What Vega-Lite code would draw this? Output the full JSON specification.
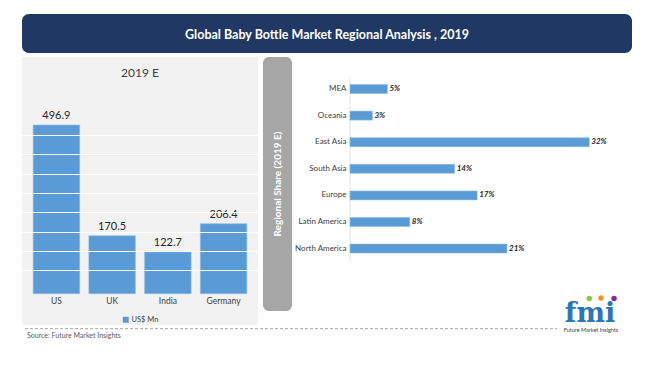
{
  "$schema": "https://vega.github.io/schema/vega-lite/v6.json",
  "background": "white",
  "padding": {"left": 22, "top": 14, "right": 0, "bottom": 0},
  "config": {"font": "Lato", "view": {"stroke": null}},
  "bounds": "flush",
  "spacing": 4,
  "vconcat": [
    {
      "width": 610,
      "height": 39,
      "view": {"fill": "#1f3864", "stroke": null, "cornerRadius": 7},
      "data": {"values": [{"t": "Global Baby Bottle Market Regional Analysis , 2019"}]},
      "mark": {"type": "text", "color": "white", "fontWeight": "bold", "fontSize": 12.5, "align": "center", "baseline": "middle", "dy": 1},
      "encoding": {
        "text": {"field": "t"},
        "x": {"datum": 0.5, "type": "quantitative", "scale": {"domain": [0, 1]}, "axis": null},
        "y": {"datum": 0.5, "type": "quantitative", "scale": {"domain": [0, 1]}, "axis": null}
      }
    },
    {
      "bounds": "full",
      "spacing": 0,
      "vconcat": [
        {
          "bounds": "flush",
          "spacing": 5,
          "hconcat": [
            {
              "width": 236,
              "height": 268,
              "view": {"fill": "#f2f2f2", "stroke": null},
              "title": {"text": "2019 E", "fontSize": 12, "fontWeight": "normal", "color": "#404040", "offset": -23, "anchor": "middle"},
              "data": {"values": [
                {"country": "US", "value": 496.9},
                {"country": "UK", "value": 170.5},
                {"country": "India", "value": 122.7},
                {"country": "Germany", "value": 206.4}
              ]},
              "encoding": {
                "x": {"field": "country", "type": "nominal", "sort": null,
                  "scale": {"paddingInner": 0.165, "paddingOuter": 0.2},
                  "axis": {"title": null, "labelAngle": 0, "labelFontSize": 8.5, "labelColor": "#404040", "ticks": false, "domain": false, "offset": -31, "labelPadding": 2}},
                "y": {"field": "value", "type": "quantitative",
                  "scale": {"domain": [-92.2, 697.2], "nice": false, "zero": false},
                  "axis": {"title": null, "labels": false, "ticks": false, "domain": false, "grid": true, "gridColor": "white", "gridWidth": 1.2, "gridOpacity": 1, "zindex": 1,
                    "values": [68.9, 125.8, 182.7, 239.6, 296.5, 353.4, 410.3, 467.2]}}
              },
              "layer": [
                {
                  "mark": {"type": "bar", "stroke": "#8fbce6", "strokeWidth": 0.6},
                  "encoding": {
                    "y2": {"datum": 0},
                    "color": {"datum": "US$ Mn", "type": "nominal", "scale": {"range": ["#5b9bd5"]},
                      "legend": {"orient": "none", "legendX": 100, "legendY": 302, "title": null, "labelFontSize": 7.5, "labelColor": "#404040", "symbolType": "square", "symbolSize": 36, "symbolStrokeWidth": 0, "labelOffset": 2, "direction": "horizontal", "zindex": 2}}
                  }
                },
                {
                  "mark": {"type": "text", "dy": -4, "baseline": "bottom", "color": "#262626"},
                  "encoding": {
                    "text": {"field": "value", "type": "quantitative", "format": ".1f"},
                    "fontSize": {"condition": {"test": "datum.country === 'India'", "value": 7.5}, "value": 9},
                    "fontWeight": {"condition": {"test": "datum.country === 'India'", "value": "normal"}, "value": "bold"}
                  }
                }
              ]
            },
            {
              "bounds": "flush",
              "spacing": 58,
              "hconcat": [
                {
                  "width": 29,
                  "height": 254,
                  "view": {"fill": "#a6a6a6", "stroke": null, "cornerRadius": 6},
                  "data": {"values": [{"label": "Regional Share (2019 E)"}]},
                  "mark": {"type": "text", "angle": 270, "color": "white", "fontWeight": "bold", "fontSize": 10, "align": "center", "baseline": "middle"},
                  "encoding": {
                    "text": {"field": "label"},
                    "x": {"datum": 0.5, "type": "quantitative", "scale": {"domain": [0, 1]}, "axis": null},
                    "y": {"datum": 0.5, "type": "quantitative", "scale": {"domain": [0, 1]}, "axis": null}
                  }
                },
                {
                  "width": 282,
                  "height": 254,
                  "data": {"values": [
                    {"region": "MEA", "share": 0.05, "logo": "fmi"},
                    {"region": "Oceania", "share": 0.03, "logo": "fmi"},
                    {"region": "East Asia", "share": 0.32, "logo": "fmi"},
                    {"region": "South Asia", "share": 0.14, "logo": "fmi"},
                    {"region": "Europe", "share": 0.17, "logo": "fmi"},
                    {"region": "Latin America", "share": 0.08, "logo": "fmi"},
                    {"region": "North America", "share": 0.21, "logo": "fmi"}
                  ]},
                  "encoding": {
                    "y": {"field": "region", "type": "nominal",
                      "scale": {"domain": ["MEA", "Oceania", "East Asia", "South Asia", "Europe", "Latin America", "North America"], "range": [18.7, 204.9], "paddingInner": 0.662, "paddingOuter": 0.331},
                      "axis": {"title": null, "ticks": false, "domain": false, "labelFontSize": 8, "labelColor": "#404040", "labelPadding": 4}},
                    "x": {"field": "share", "type": "quantitative", "scale": {"domain": [0, 0.3771], "nice": false}, "axis": null}
                  },
                  "layer": [
                    {
                      "transform": [{"filter": "datum.region === 'MEA'"}],
                      "mark": {"type": "rule", "color": "#e3e3e3", "strokeWidth": 1, "yOffset": -12, "y2Offset": 13},
                      "encoding": {
                        "x": {"datum": 0, "type": "quantitative"},
                        "y": {"datum": "MEA", "type": "nominal"},
                        "y2": {"datum": "North America"}
                      }
                    },
                    {"mark": {"type": "bar", "color": "#5b9bd5", "stroke": "#8fbce6", "strokeWidth": 0.6}},
                    {
                      "mark": {"type": "text", "align": "left", "dx": 2, "fontStyle": "italic", "fontWeight": "bold", "fontSize": 8, "color": "#262626"},
                      "encoding": {"text": {"field": "share", "type": "quantitative", "format": ".0%"}}
                    },
                    {
                      "transform": [{"filter": "datum.region === 'North America'"}],
                      "mark": {"type": "text", "align": "center", "baseline": "alphabetic", "fontSize": 27, "fontWeight": "bold", "font": "DejaVu Serif", "color": "#2e75b6", "dy": 73},
                      "encoding": {"text": {"field": "logo"}, "x": {"datum": 0.321, "type": "quantitative"}}
                    },
                    {
                      "transform": [{"filter": "datum.region === 'North America'"}],
                      "mark": {"type": "point", "filled": true, "size": 30, "color": "#8cc63f", "opacity": 1, "yOffset": 50},
                      "encoding": {"x": {"datum": 0.32, "type": "quantitative"}}
                    },
                    {
                      "transform": [{"filter": "datum.region === 'North America'"}],
                      "mark": {"type": "point", "filled": true, "size": 30, "color": "#f7941d", "opacity": 1, "yOffset": 49.5},
                      "encoding": {"x": {"datum": 0.3357, "type": "quantitative"}}
                    },
                    {
                      "transform": [{"filter": "datum.region === 'North America'"}],
                      "mark": {"type": "point", "filled": true, "size": 30, "color": "#92278f", "opacity": 1, "yOffset": 50},
                      "encoding": {"x": {"datum": 0.3531, "type": "quantitative"}}
                    }
                  ]
                }
              ]
            }
          ]
        },
        {
          "width": 628,
          "height": 41,
          "data": {"values": [{"src": "Source: Future Market Insights", "brand": "Future Market Insights"}]},
          "encoding": {
            "x": {"type": "quantitative", "scale": {"domain": [0, 628]}, "axis": null},
            "y": {"type": "quantitative", "scale": {"domain": [0, 41]}, "axis": null}
          },
          "layer": [
            {
              "mark": {"type": "rule", "color": "#a6a6a6", "strokeDash": [3, 2], "strokeWidth": 1},
              "encoding": {"x": {"datum": 3}, "x2": {"datum": 535}, "y": {"datum": 39.3}}
            },
            {
              "mark": {"type": "text", "align": "left", "baseline": "middle", "fontSize": 7, "color": "#595959"},
              "encoding": {"text": {"field": "src"}, "x": {"datum": 5}, "y": {"datum": 32.3}}
            },
            {
              "mark": {"type": "text", "align": "center", "baseline": "middle", "fontSize": 5.5, "color": "#404040"},
              "encoding": {"text": {"field": "brand"}, "x": {"datum": 569}, "y": {"datum": 38}}
            }
          ]
        }
      ]
    }
  ]
}
